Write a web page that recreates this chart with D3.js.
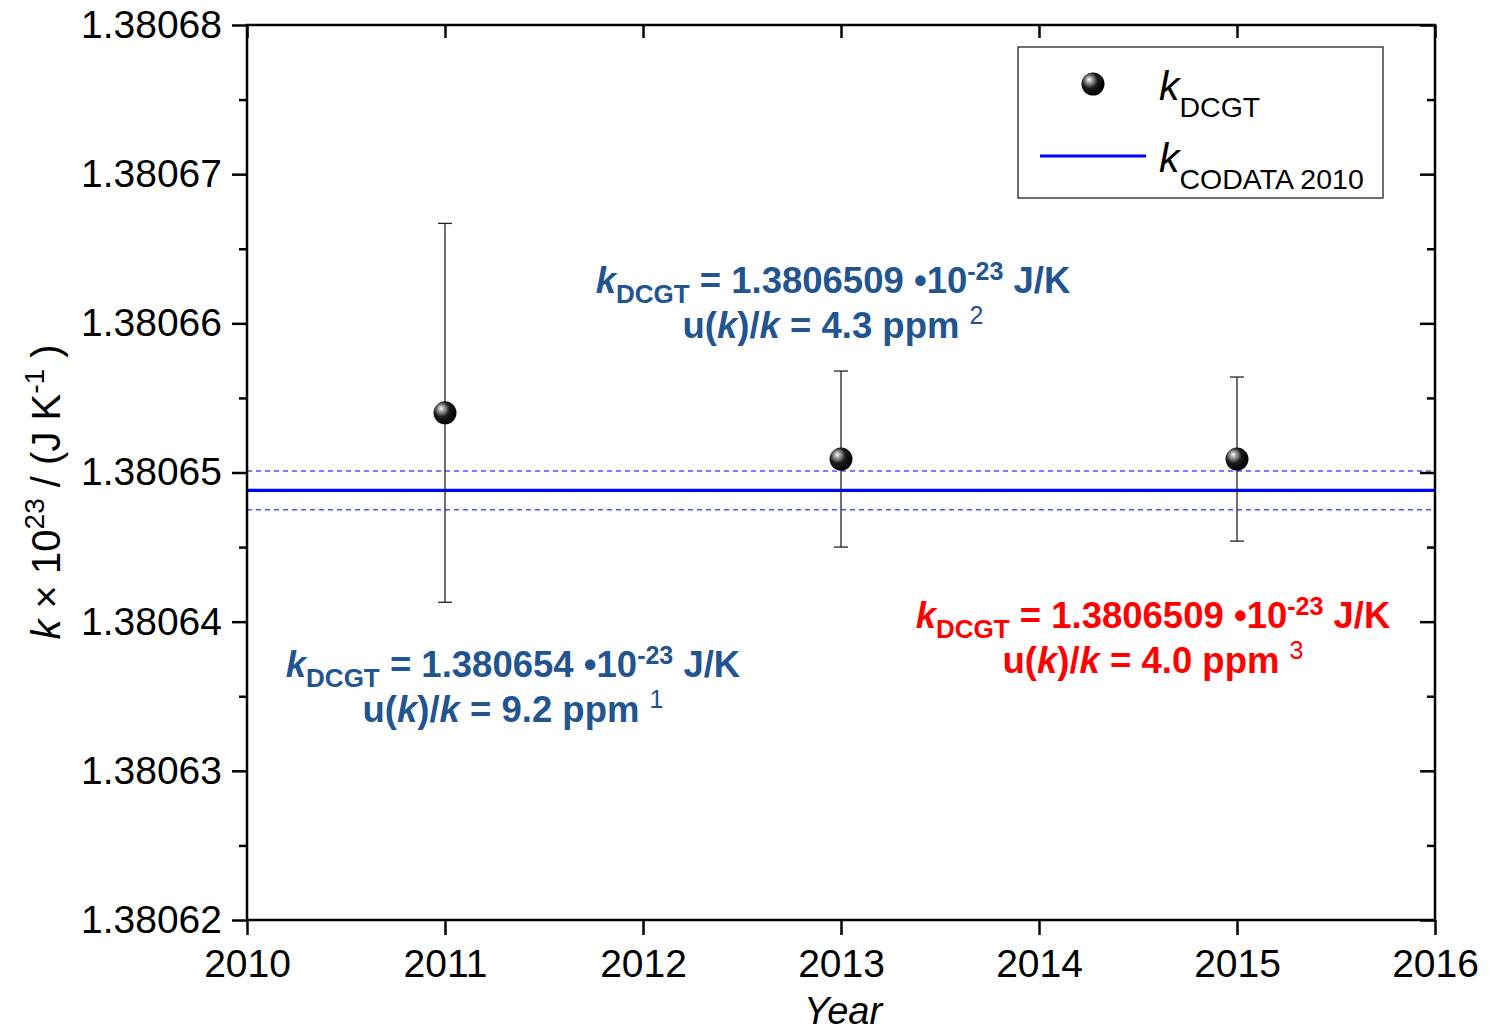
<!DOCTYPE html>
<html>
<head>
<meta charset="utf-8">
<script src="https://cdn.jsdelivr.net/npm/d3@7"></script>
<style>
  body { margin: 0; background: #fff; }
  svg { font-family: "Liberation Sans", Arial, sans-serif; }
</style>
</head>
<body>
<div id="plot"></div>
<script>
// data
var years = [2011, 2013, 2015];
var kValues = [1.380654, 1.3806509, 1.3806509];
var kUnc = [0.0000127, 0.0000059, 0.0000055];
var codataK = 1.3806488;
var codataU = 0.0000013;
var xTicks = [2010, 2011, 2012, 2013, 2014, 2015, 2016];
var yTicks = [1.38062, 1.38063, 1.38064, 1.38065, 1.38066, 1.38067, 1.38068];
var yMinor = [1.380625, 1.380635, 1.380645, 1.380655, 1.380665, 1.380675];

var annValue = ["1.380654", "1.3806509", "1.3806509"];
var annPpm = ["9.2", "4.3", "4.0"];
var annRef = ["1", "2", "3"];

var W = 1494, H = 1034;
var pL = 247, pR = 1435, pT = 25, pB = 920;

var svg = d3.select("#plot").append("svg")
  .attr("width", W).attr("height", H);

var x = d3.scaleLinear().domain([2010, 2016]).range([pL, pR]);
var y = d3.scaleLinear().domain([1.38062, 1.38068]).range([pB, pT]);

var defs = svg.append("defs");
var grad = defs.append("radialGradient").attr("id", "ball")
  .attr("cx", "38%").attr("cy", "38%").attr("r", "62%")
  .attr("fx", "33%").attr("fy", "30%");
grad.append("stop").attr("offset", "0%").attr("stop-color", "#ffffff");
grad.append("stop").attr("offset", "20%").attr("stop-color", "#a8a8a8");
grad.append("stop").attr("offset", "55%").attr("stop-color", "#1a1a1a");
grad.append("stop").attr("offset", "100%").attr("stop-color", "#000000");

// codata band
svg.append("line")
  .attr("x1", pL).attr("x2", pR)
  .attr("y1", y(codataK)).attr("y2", y(codataK))
  .attr("stroke", "#0000ff").attr("stroke-width", 3.2);
[codataK + codataU, codataK - codataU].forEach(function(v) {
  svg.append("line")
    .attr("x1", pL).attr("x2", pR)
    .attr("y1", y(v)).attr("y2", y(v))
    .attr("stroke", "#4f4fff").attr("stroke-width", 1.5)
    .attr("stroke-dasharray", "5,4");
});

// error bars
var pts = years.map(function(yr, i) { return {yr: yr, k: kValues[i], u: kUnc[i]}; });
var eb = svg.append("g").attr("stroke", "#222").attr("stroke-width", 1.3);
pts.forEach(function(d) {
  eb.append("line").attr("x1", x(d.yr)).attr("x2", x(d.yr))
    .attr("y1", y(d.k + d.u)).attr("y2", y(d.k - d.u));
  [d.k + d.u, d.k - d.u].forEach(function(v) {
    eb.append("line").attr("x1", x(d.yr) - 7).attr("x2", x(d.yr) + 7)
      .attr("y1", y(v)).attr("y2", y(v));
  });
});

svg.selectAll("circle.pt").data(pts).enter().append("circle")
  .attr("class", "pt")
  .attr("cx", function(d) { return x(d.yr); })
  .attr("cy", function(d) { return y(d.k); })
  .attr("r", 11.5)
  .attr("fill", "url(#ball)");

// axes
var axW = 2.5;
var gL = svg.append("g").attr("transform", "translate(" + pL + ",0)")
  .call(d3.axisLeft(y).tickValues(yTicks).tickSize(15).tickPadding(10).tickFormat(d3.format(".5f")));
var gLm = svg.append("g").attr("transform", "translate(" + pL + ",0)")
  .call(d3.axisLeft(y).tickValues(yMinor).tickSize(8).tickFormat(""));
var gR = svg.append("g").attr("transform", "translate(" + pR + ",0)")
  .call(d3.axisLeft(y).tickValues(yTicks).tickSize(15).tickFormat(""));
var gRm = svg.append("g").attr("transform", "translate(" + pR + ",0)")
  .call(d3.axisLeft(y).tickValues(yMinor).tickSize(8).tickFormat(""));
var gB = svg.append("g").attr("transform", "translate(0," + pB + ")")
  .call(d3.axisBottom(x).tickValues(xTicks).tickSize(15).tickPadding(10).tickFormat(d3.format("d")));
var gT = svg.append("g").attr("transform", "translate(0," + pT + ")")
  .call(d3.axisBottom(x).tickValues(xTicks).tickSize(13).tickFormat(""));

[gL, gLm, gR, gRm, gB, gT].forEach(function(g) {
  g.selectAll("path.domain").remove();
  g.selectAll("line").attr("stroke", "#000").attr("stroke-width", axW);
  g.selectAll("text").attr("font-size", 39).attr("fill", "#000")
    .attr("font-family", "Liberation Sans, Arial, sans-serif");
});
gB.selectAll("text").attr("dy", "0.82em");

svg.append("rect")
  .attr("x", pL).attr("y", pT)
  .attr("width", pR - pL).attr("height", pB - pT)
  .attr("fill", "none").attr("stroke", "#000").attr("stroke-width", axW);

// axis titles
svg.append("text")
  .attr("x", (pL + pR) / 2 + 2).attr("y", 1024)
  .attr("text-anchor", "middle")
  .attr("font-size", 38).attr("font-style", "italic")
  .text("Year");

var yl = svg.append("text")
  .attr("transform", "translate(60,492) rotate(-90)")
  .attr("text-anchor", "middle")
  .attr("font-size", 40);
yl.append("tspan").attr("font-style", "italic").text("k");
yl.append("tspan").text(" \u00d7 10");
yl.append("tspan").attr("dy", -16).attr("font-size", 28).text("23");
yl.append("tspan").attr("dy", 16).text(" / (J K");
yl.append("tspan").attr("dy", -16).attr("font-size", 28).text("-1");
yl.append("tspan").attr("dy", 16).text(" )");

// legend
var lg = svg.append("g");
lg.append("rect").attr("x", 1018).attr("y", 47).attr("width", 365).attr("height", 151)
  .attr("fill", "#fff").attr("stroke", "#222").attr("stroke-width", 1.3);
lg.append("circle").attr("cx", 1093).attr("cy", 84).attr("r", 11.5).attr("fill", "url(#ball)");
lg.append("line").attr("x1", 1040).attr("x2", 1146).attr("y1", 156).attr("y2", 156)
  .attr("stroke", "#0000ff").attr("stroke-width", 3.2);
var lt1 = lg.append("text").attr("x", 1159).attr("y", 100).attr("font-size", 41);
lt1.append("tspan").attr("font-style", "italic").text("k");
lt1.append("tspan").attr("dy", 17).attr("font-size", 28.5).text("DCGT");
var lt2 = lg.append("text").attr("x", 1159).attr("y", 172).attr("font-size", 41);
lt2.append("tspan").attr("font-style", "italic").text("k");
lt2.append("tspan").attr("dy", 17).attr("font-size", 28.5).text("CODATA 2010");

// annotations
var annPos = [[513, 677], [833, 293], [1153, 628]];
var annColor = ["#22548f", "#22548f", "#ff0000"];
annValue.forEach(function(v, i) {
  var g = svg.append("g").attr("fill", annColor[i]).attr("font-weight", "bold");
  var t1 = g.append("text").attr("x", annPos[i][0]).attr("y", annPos[i][1])
    .attr("text-anchor", "middle").attr("font-size", 36.5);
  t1.append("tspan").attr("font-style", "italic").text("k");
  t1.append("tspan").attr("dy", 10).attr("font-size", 26).text("DCGT");
  t1.append("tspan").attr("dy", -10).text(" = " + v + " \u202210");
  t1.append("tspan").attr("dy", -13).attr("font-size", 25).text("-23");
  t1.append("tspan").attr("dy", 13).text(" J/K");
  var t2 = g.append("text").attr("x", annPos[i][0]).attr("y", annPos[i][1] + 45)
    .attr("text-anchor", "middle").attr("font-size", 36.5);
  t2.append("tspan").text("u(");
  t2.append("tspan").attr("font-style", "italic").text("k");
  t2.append("tspan").text(")/");
  t2.append("tspan").attr("font-style", "italic").text("k");
  t2.append("tspan").text(" = " + annPpm[i] + " ppm ");
  t2.append("tspan").attr("dy", -14).attr("font-size", 25).attr("font-weight", "normal").text(annRef[i]);
});
</script>
</body>
</html>
